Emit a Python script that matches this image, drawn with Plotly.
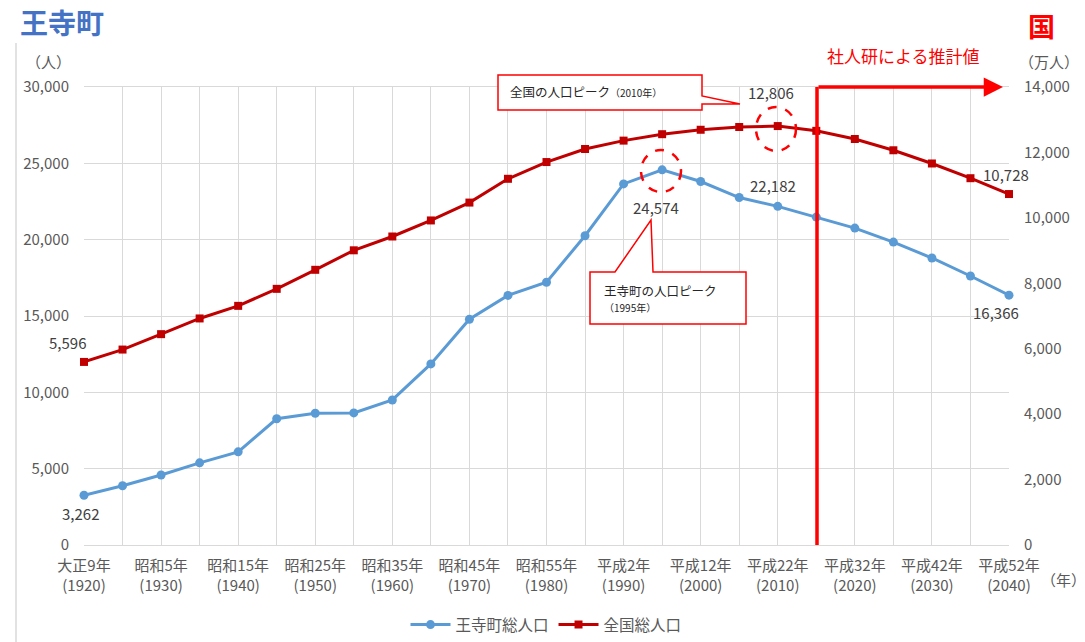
import plotly.graph_objects as go

# ---------------- data ----------------
years = [1920, 1925, 1930, 1935, 1940, 1945, 1950, 1955, 1960, 1965, 1970, 1975,
         1980, 1985, 1990, 1995, 2000, 2005, 2010, 2015, 2020, 2025, 2030, 2035, 2040]
oji_pop = [3262, 3880, 4585, 5380, 6100, 8270, 8630, 8650, 9500, 11860, 14790, 16350,
           17210, 20260, 23650, 24574, 23810, 22760, 22182, 21480, 20760, 19840, 18800, 17620, 16366]
japan_pop = [5596, 5974, 6445, 6925, 7310, 7830, 8412, 9008, 9430, 9921, 10467, 11194,
             11706, 12105, 12361, 12557, 12693, 12777, 12806, 12660, 12410, 12066, 11662, 11212, 10728]
tick_years = [1920, 1930, 1940, 1950, 1960, 1970, 1980, 1990, 2000, 2010, 2020, 2030, 2040]
tick_era = ["大正9年", "昭和5年", "昭和15年", "昭和25年", "昭和35年", "昭和45年", "昭和55年",
            "平成2年", "平成12年", "平成22年", "平成32年", "平成42年", "平成52年"]
series_names = ["王寺町総人口", "全国総人口"]

# ---------------- layout helpers ----------------
FIG_W, FIG_H = 1085, 642
L, R, T, B = 84, 1009, 87, 545
PW, PH = R - L, B - T


def px(x):
    return (x - L) / PW


def py(y):
    return (B - y) / PH


def path(points):
    return "M " + " L ".join(f"{px(x):.5f},{py(y):.5f}" for x, y in points) + " Z"


FONT = "Noto Sans CJK JP, Noto Sans, sans-serif"
GRID = "#D9D9D9"
TXT = "#595959"
LBL = "#404040"
BLUE = "#5B9BD5"
DRED = "#C00000"
RED = "#FF0000"

label_map = dict(zip(tick_years, [f"{e}<br>({y})" for e, y in zip(tick_era, tick_years)]))
ticktext = [label_map.get(y, "") for y in years]

fig = go.Figure()
fig.add_trace(go.Scatter(
    x=years, y=oji_pop, name=series_names[0], mode="lines+markers",
    line=dict(color=BLUE, width=3), marker=dict(symbol="circle", size=9, color=BLUE),
    yaxis="y", cliponaxis=False))
fig.add_trace(go.Scatter(
    x=years, y=japan_pop, name=series_names[1], mode="lines+markers",
    line=dict(color=DRED, width=3), marker=dict(symbol="square", size=8, color=DRED),
    yaxis="y2", cliponaxis=False))

annotations = []


def data_label(idx, series, yref, xs, ys):
    annotations.append(dict(
        x=years[idx], y=series[idx], xref="x", yref=yref,
        text=f"{series[idx]:,}", showarrow=False, xshift=xs, yshift=ys,
        font=dict(family=FONT, size=15, color=LBL)))


data_label(0, oji_pop, "y", -4, -18)
data_label(0, japan_pop, "y2", -17, 19)
data_label(15, oji_pop, "y", -6, -38)
data_label(18, oji_pop, "y", -5, 21)
data_label(18, japan_pop, "y2", -7, 34)
data_label(24, japan_pop, "y2", -3, 20)
data_label(24, oji_pop, "y", -13, -17)

# free texts
texts = [
    ("王寺町", 62, 22, 28, "#4472C4", True),
    ("国", 1041, 26, 27, RED, True),
    ("（人）", 48, 62, 15, TXT, False),
    ("（万人）", 1049, 62, 15, TXT, False),
    ("（年）", 1063, 579, 15, TXT, False),
    ("社人研による推計値", 903, 55, 17, RED, False),
]
for t, x, y, s, c, b in texts:
    annotations.append(dict(
        x=px(x), y=py(y), xref="paper", yref="paper", showarrow=False,
        text=f"<b>{t}</b>" if b else t, font=dict(family=FONT, size=s, color=c),
        xanchor="center", yanchor="middle"))

annotations.append(dict(
    x=px(508), y=py(92), xref="paper", yref="paper", showarrow=False,
    text="全国の人口ピーク<span style='font-size:10px'>（2010年）</span>",
    font=dict(family=FONT, size=12.5, color="#262626"), xanchor="left", yanchor="middle"))
annotations.append(dict(
    x=px(602), y=py(298), xref="paper", yref="paper", showarrow=False,
    text="王寺町の人口ピーク<br><span style='font-size:10px'>（1995年）</span>",
    font=dict(family=FONT, size=12.5, color="#262626"), xanchor="left", yanchor="middle",
    align="left"))

# arrow of projection period
annotations.append(dict(
    x=px(1003), y=py(87), xref="paper", yref="paper", ax=-186, ay=0,
    text="", showarrow=True, arrowhead=2, arrowsize=1.1, arrowwidth=3.5, arrowcolor=RED,
    standoff=0))

shapes = [
    # page border line on the left
    dict(type="line", xref="paper", yref="paper", x0=px(16), x1=px(16), y0=py(43), y1=py(642),
         line=dict(color="#D9D9D9", width=1.5)),
    # projection start line
    dict(type="line", xref="paper", yref="paper", x0=px(817), x1=px(817), y0=py(87), y1=py(545),
         line=dict(color=RED, width=3.5)),
    # dashed circles at peaks
    dict(type="circle", xref="paper", yref="paper", x0=px(641), x1=px(681), y0=py(150), y1=py(192),
         line=dict(color=RED, width=2.5, dash="dash")),
    dict(type="circle", xref="paper", yref="paper", x0=px(756), x1=px(796), y0=py(107), y1=py(151),
         line=dict(color=RED, width=2.5, dash="dash")),
    # callouts
    dict(type="path", xref="paper", yref="paper",
         path=path([(498, 75), (702, 75), (702, 96), (740, 104), (702, 104), (702, 110), (498, 110)]),
         fillcolor="white", line=dict(color=RED, width=1.5)),
    dict(type="path", xref="paper", yref="paper",
         path=path([(590, 272), (615, 272), (651, 220), (653, 272), (746, 272), (746, 324), (590, 324)]),
         fillcolor="white", line=dict(color=RED, width=1.5)),
]

fig.update_layout(
    width=FIG_W, height=FIG_H,
    margin=dict(l=L, r=FIG_W - R, t=T, b=FIG_H - B, autoexpand=False),
    paper_bgcolor="white", plot_bgcolor="white",
    font=dict(family=FONT, size=14, color=TXT),
    showlegend=True,
    legend=dict(orientation="h", x=px(546), y=py(625), xanchor="center", yanchor="middle",
                font=dict(family=FONT, size=15.5, color=TXT), itemwidth=40, traceorder="normal"),
    xaxis=dict(range=[1920, 2040], tickvals=years, ticktext=ticktext, showgrid=True,
               gridcolor=GRID, gridwidth=1, showline=True, linecolor=GRID, mirror=True,
               zeroline=False, ticks="", tickfont=dict(family=FONT, size=15, color=TXT),
               ticklabelstandoff=7),
    yaxis=dict(range=[0, 30000], dtick=5000, tickformat=",", showgrid=True, gridcolor=GRID,
               gridwidth=1, zeroline=False, showline=False, ticks="",
               tickfont=dict(family=FONT, size=15, color=TXT), ticklabelstandoff=14),
    yaxis2=dict(range=[0, 14000], dtick=2000, tickformat=",", overlaying="y", side="right",
                showgrid=False, zeroline=False, showline=False, ticks="",
                tickfont=dict(family=FONT, size=15, color=TXT), ticklabelstandoff=14),
    annotations=annotations,
    shapes=shapes,
)

fig.write_html("out.html", config={"displayModeBar": False},
               post_script="document.body.style.margin='0';")
